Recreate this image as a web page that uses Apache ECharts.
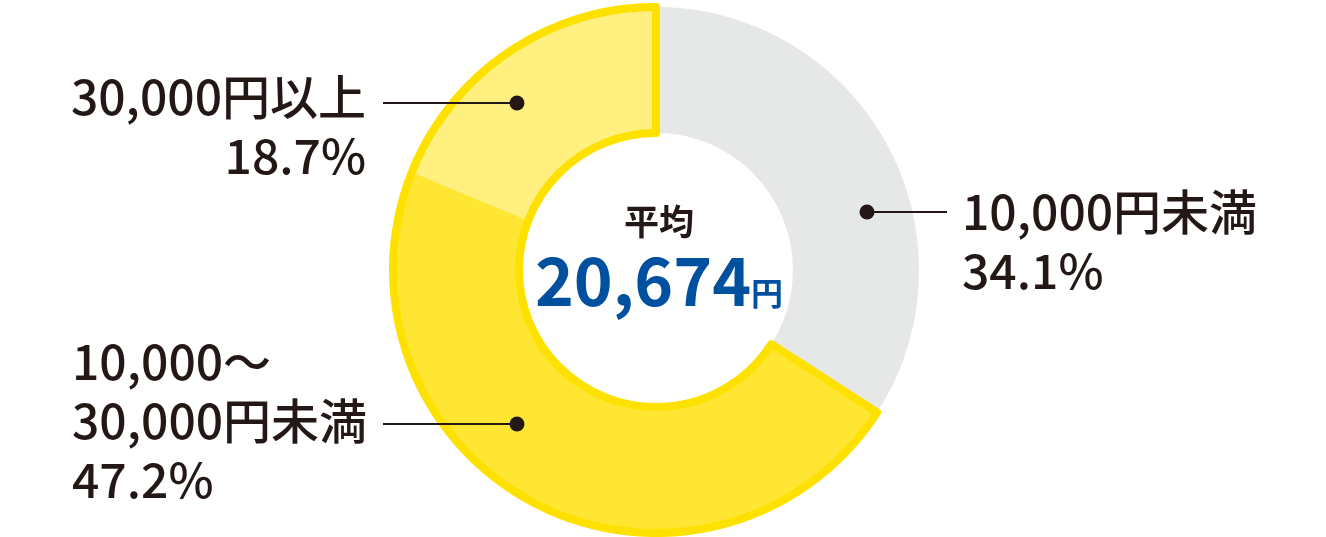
<!DOCTYPE html>
<html>
<head>
<meta charset="utf-8">
<script src="https://cdn.jsdelivr.net/npm/echarts@6/dist/echarts.min.js"></script>
<style>
  html, body { margin: 0; padding: 0; background: #fff; }
  #chart { width: 1326px; height: 537px; }
</style>
</head>
<body>
<div id="chart"></div>
<script>
// データ
const categories = ['10,000円未満', '10,000〜\n30,000円未満', '30,000円以上'];
const shares = [34.1, 47.2, 18.7];
const avgLabel = '平均';
const avgAmount = 20674;
const avgUnit = '円';

const FONT = '"Noto Sans CJK JP", "Noto Sans", sans-serif';
const INK = '#231815';
const fills = ['#e6e7e7', '#ffe633', '#fff07f'];
const edge = '#ffe100';
const clear = 'rgba(0,0,0,0)';

// ラベルと引き出し線の配置
const labelSpots = [
  { x: 962, y: 241, align: 'left', dot: [867, 212], lineEnd: 947 },
  { x: 72, y: 421, align: 'left', dot: [517, 424], lineEnd: 383 },
  { x: 366, y: 126, align: 'right', dot: [517, 103], lineEnd: 383 }
];

const center = [656, 270];
const radius = [137, 263];

const chart = echarts.init(document.getElementById('chart'));

const fillData = categories.map((name, i) => ({
  name,
  value: shares[i],
  itemStyle: i === 2
    ? { color: fills[i], borderColor: fills[i], borderWidth: 8 }
    : { color: fills[i], borderWidth: 0 }
}));

// 黄色部分の外枠（2区分をまとめた扇形）
const outlineData = [
  { value: shares[0], itemStyle: { color: clear, borderWidth: 0 } },
  { value: shares[1] + shares[2], itemStyle: { color: clear, borderColor: edge, borderWidth: 8 } }
];

const plainData = categories.map((name, i) => ({ name, value: shares[i] }));

const base = {
  type: 'pie',
  center,
  radius,
  startAngle: 90,
  clockwise: true,
  silent: true,
  avoidLabelOverlap: false
};

chart.setOption({
  animation: false,
  title: {
    text: `{a|${avgLabel}}\n{b|${avgAmount.toLocaleString('ja-JP')}}{c|${avgUnit}}`,
    left: 659,
    top: 199,
    textAlign: 'center',
    padding: 0,
    textStyle: {
      rich: {
        a: { fontFamily: FONT, fontSize: 35, fontWeight: 'bold', color: INK, lineHeight: 46 },
        b: { fontFamily: FONT, fontSize: 66, fontWeight: 'bold', color: '#0050a0', lineHeight: 72 },
        c: { fontFamily: FONT, fontSize: 32, fontWeight: 'bold', color: '#0050a0', lineHeight: 72, verticalAlign: 'bottom', padding: [0, 0, 8, 0] }
      }
    }
  },
  series: [
    Object.assign({}, base, {
      z: 2,
      data: fillData,
      label: { show: false },
      labelLine: { show: false }
    }),
    Object.assign({}, base, {
      z: 3,
      data: outlineData,
      label: { show: false },
      labelLine: { show: false }
    }),
    Object.assign({}, base, {
      z: 4,
      data: plainData,
      itemStyle: { color: clear, borderWidth: 0 },
      label: {
        show: true,
        position: 'outside',
        formatter: (p) => `${p.name}\n${p.value}%`,
        fontFamily: FONT,
        fontSize: 48,
        fontWeight: 500,
        lineHeight: 59,
        color: INK
      },
      labelLine: {
        show: true,
        lineStyle: { color: INK, width: 2 }
      },
      labelLayout: (params) => {
        const s = labelSpots[params.dataIndex];
        const y = s.dot[1];
        return {
          x: s.x,
          y: s.y,
          align: s.align,
          verticalAlign: 'middle',
          labelLinePoints: [s.dot, [s.lineEnd, y], [s.lineEnd, y]]
        };
      }
    }),
    Object.assign({}, base, {
      z: 5,
      data: plainData,
      itemStyle: { color: clear, borderWidth: 0 },
      label: {
        show: true,
        position: 'inside',
        formatter: '{d| }',
        rich: {
          d: { width: 15, height: 15, borderRadius: 7.5, backgroundColor: INK }
        }
      },
      labelLine: { show: false },
      labelLayout: (params) => {
        const s = labelSpots[params.dataIndex];
        return { x: s.dot[0], y: s.dot[1], align: 'center', verticalAlign: 'middle' };
      }
    })
  ]
});

window.addEventListener('resize', () => chart.resize());
</script>
</body>
</html>
